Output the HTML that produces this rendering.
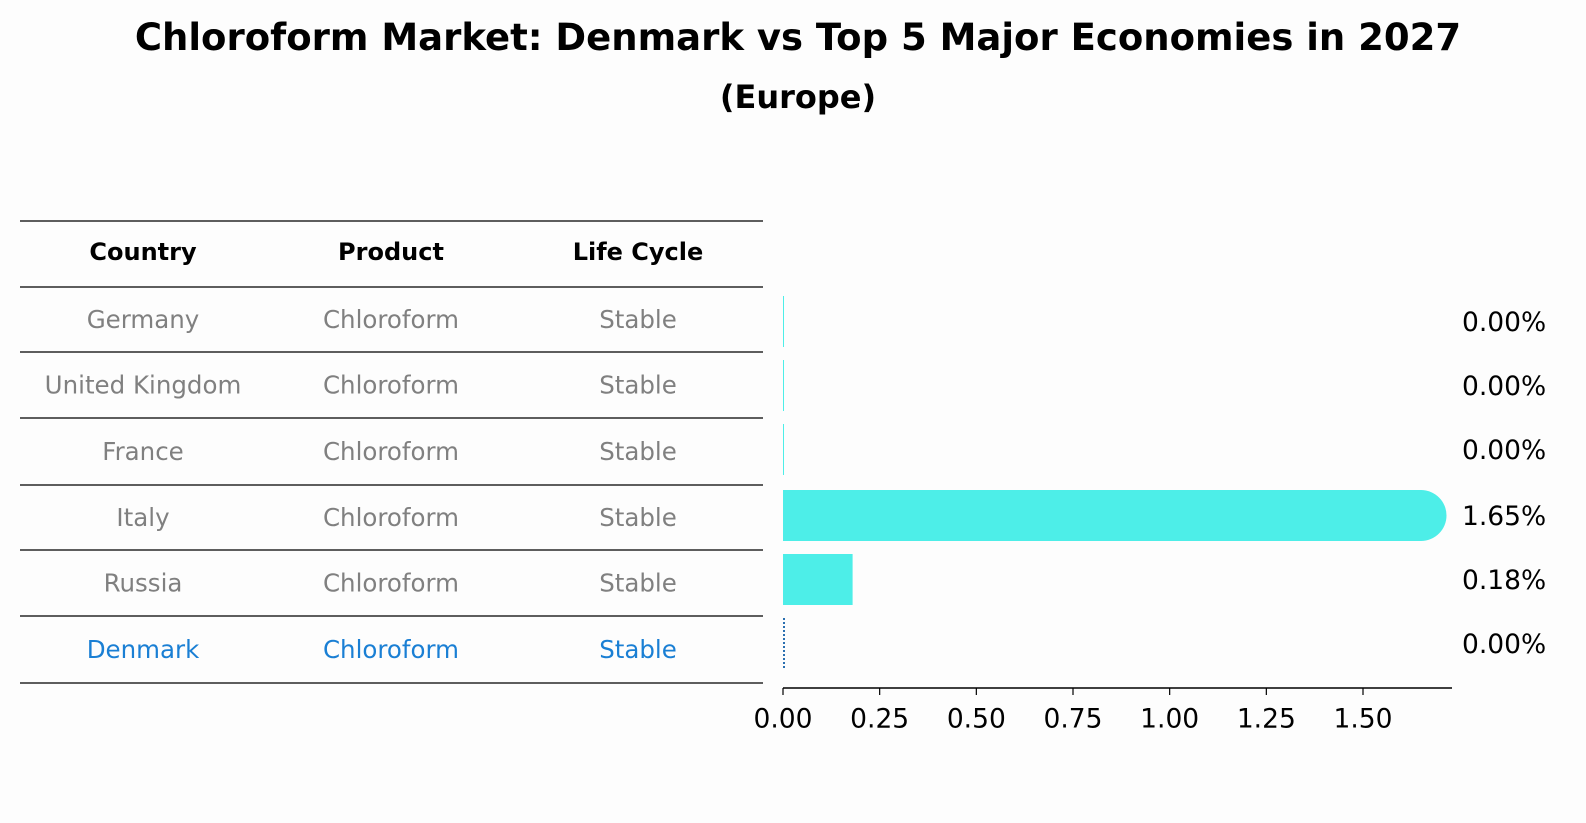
<!DOCTYPE html>
<html><head><meta charset="utf-8"><style>
body{margin:0;background:#fdfdfd;}
svg{display:block;font-family:"DejaVu Sans","Liberation Sans",sans-serif;}
</style></head><body>
<svg id="c" width="1586" height="823">
<text x="798" y="50" text-anchor="middle" font-size="37" font-weight="bold">Chloroform Market: Denmark vs Top 5 Major Economies in 2027</text>
<text x="798" y="108" text-anchor="middle" font-size="32" font-weight="bold">(Europe)</text>
<g id="tbl"></g>
<g id="bars"></g>
</svg>
<script>
const countries=["Germany","United Kingdom","France","Italy","Russia","Denmark"];
const products=["Chloroform","Chloroform","Chloroform","Chloroform","Chloroform","Chloroform"];
const lifecycle=["Stable","Stable","Stable","Stable","Stable","Stable"];
const values=[0.00,0.00,0.00,1.65,0.18,0.00];
const ticks=[0,0.25,0.5,0.75,1.0,1.25,1.5];
const NS="http://www.w3.org/2000/svg";
function mk(p,t,a,txt){const e=document.createElementNS(NS,t);for(const k in a)e.setAttribute(k,a[k]);if(txt!==undefined)e.textContent=txt;p.appendChild(e);return e;}
const tbl=document.getElementById('tbl');
const rowY=[221,287,352,418,485,550,616,683];
rowY.forEach((y,i)=>{const l=mk(tbl,'line',{x1:20,x2:763,y1:y,y2:y,stroke:'#000','stroke-width':1.2});

});
const cx=[143,391,638];
["Country","Product","Life Cycle"].forEach((h,j)=>{const t=mk(tbl,'text',{x:cx[j],y:252,'text-anchor':'middle','dominant-baseline':'central','font-size':24,'font-weight':'bold'},h);

});
countries.forEach((c,i)=>{const y=(rowY[i+1]+rowY[i+2])/2;const col=i===5?'#1a7fd4':'#808080';
[c,products[i],lifecycle[i]].forEach((v,j)=>{const t=mk(tbl,'text',{x:cx[j],y:y,'text-anchor':'middle','dominant-baseline':'central','font-size':24.5,fill:col},v);

});});
const bars=document.getElementById('bars');
const x0=783,ppu=580/1.5;const X=v=>x0+v*ppu;
const bandTop=[296,360,424,490,554,618],bh=51;
values.forEach((v,i)=>{const y=bandTop[i];let r;
if(i===5){r=mk(bars,'line',{x1:x0+1,x2:x0+1,y1:y,y2:y+bh,stroke:'#2a6fb0','stroke-width':2,'stroke-dasharray':'2,2'});}
else if(i===3){r=mk(bars,'path',{d:`M${x0} ${y}H${X(v)}a${bh/2} ${bh/2} 0 0 1 0 ${bh}H${x0}Z`,fill:'#4deee8'});}
else{r=mk(bars,'rect',{x:x0,y:y,width:Math.max(X(v)-x0,1),height:bh,fill:'#4deee8'});}


const t=mk(bars,'text',{x:1462,y:y+bh/2+1,'dominant-baseline':'central','font-size':26.5},v.toFixed(2)+'%');

});
const ax=mk(bars,'line',{x1:x0,x2:1452,y1:688,y2:688,stroke:'#000','stroke-width':1.5});


ticks.forEach(v=>{const tk=mk(bars,'line',{x1:X(v),x2:X(v),y1:688,y2:695,stroke:'#000','stroke-width':1.2});


const t=mk(bars,'text',{x:X(v),y:719,'text-anchor':'middle','dominant-baseline':'central','font-size':26.5},v.toFixed(2));

});
</script>
</body></html>
